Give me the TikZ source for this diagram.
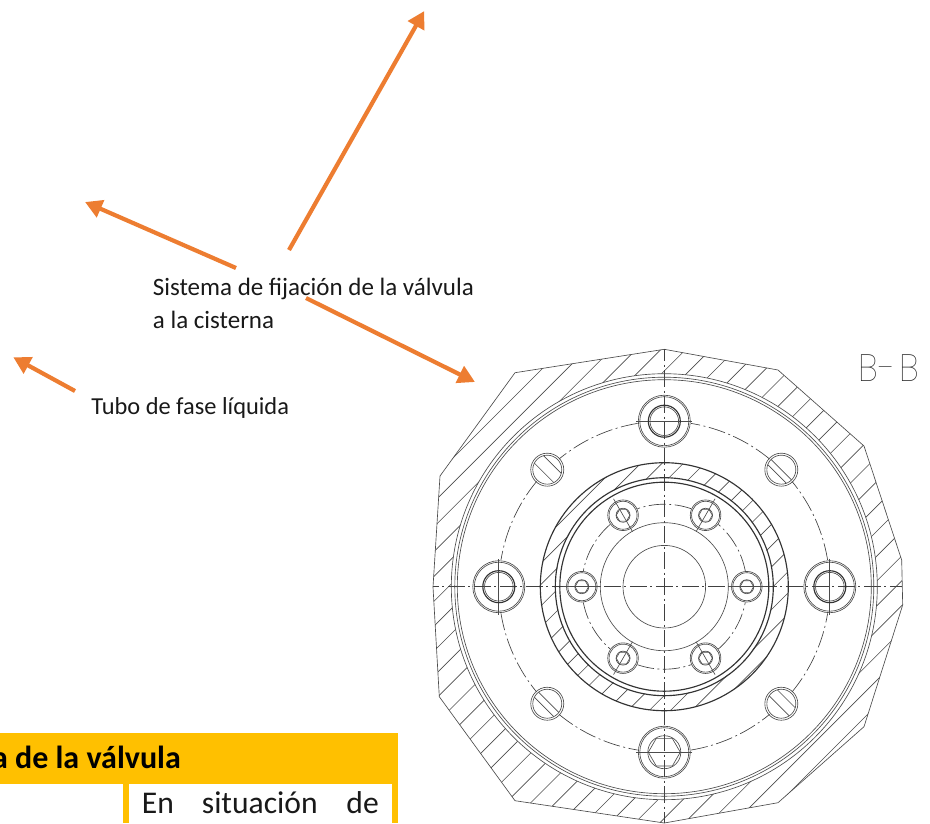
\documentclass[tikz,border=0pt]{standalone}
\usepackage{fontspec}
\setmainfont{Carlito}
\newfontfamily\cadfont{Poppins Thin}
\usetikzlibrary{arrows.meta}
\definecolor{arrowor}{HTML}{ED7D31}
\definecolor{headgold}{HTML}{FFC000}
\tikzset{
  cadline/.style={draw=black!70,line width=0.65pt},
  cadthick/.style={draw=black!80,line width=1.15pt},
  cadcentre/.style={draw=black!75,line width=0.65pt,dash pattern=on 17pt off 3.5pt on 2pt off 3.5pt},
  pointer/.style={draw=arrowor,line width=4.2pt,-{Triangle[length=17pt,width=18pt]}},
  callout/.style={font=\fontsize{25}{32.6}\selectfont,align=left,anchor=base west,inner sep=0pt,text=black!90},
  celltext/.style={font=\fontsize{31.6}{34}\selectfont,inner sep=0pt,text=black!90},
}
\begin{document}
\begin{tikzpicture}[x=1pt,y=-1pt]
\useasboundingbox (0,0) rectangle (930,823);
% table fragment
\fill[headgold] (0,733) rectangle (398,823);
\fill[white] (0,783.5) rectangle (123,823);
\fill[white] (129,783.5) rectangle (392,823);
\node[font=\bfseries\fontsize{32}{36}\selectfont,anchor=base east,inner sep=0pt] (head) at (181,768) {a de la válvula};
\node[celltext,anchor=base west] (cell1) at (141.7,813) {En};
\node[celltext,anchor=base west] (cell2) at (201.7,813) {situación};
\node[celltext,anchor=base east] (cell3) at (379,813) {de};
% labels
\node[callout] (fix) at (152.7,328.3) {Sistema de fijación de la válvula\\a la cisterna};
\node[callout,font=\fontsize{24.4}{32.6}\selectfont] (tube) at (91.2,414.3) {Tubo de fase líquida};
\node[font=\cadfont\fontsize{38}{38}\selectfont,anchor=base west,inner sep=0pt,xscale=0.92,text=black!85] (bb) at (858,381) {B\kern3.5pt-\kern3.5pt B};
% arrows
\coordinate (a1s) at (289,250); \coordinate (a1e) at (424.3,11);
\coordinate (a2s) at (236,268); \coordinate (a2e) at (85,202);
\coordinate (a3s) at (306,298); \coordinate (a3e) at (475,382);
\coordinate (a4s) at (75,391);  \coordinate (a4e) at (13.3,357.3);
\draw[pointer] (a1s) -- (a1e);
\draw[pointer] (a2s) -- (a2e);
\draw[pointer] (a3s) -- (a3e);
\draw[pointer] (a4s) -- (a4e);
% hatching, body
\begin{scope}[even odd rule]
  \clip (664.3,349.3) -- (778,370) -- (864,446) -- (901.7,560) -- (902.7,605) -- (864,726.7) -- (778,802.7) -- (664.3,823) -- (515,800.7) -- (439.3,696.7) -- (433,587) -- (440,476) -- (515,372.7) -- cycle (664.3,586.7) circle[radius=213];
  \foreach \k in {0,...,27}{
    \pgfmathsetmacro\cc{911+24.85*\k}
    \draw[cadline] (400,{\cc-400}) -- (930,{\cc-930});
  }
\end{scope}
\draw[cadline] (664.3,349.3) -- (778,370) -- (864,446) -- (901.7,560) -- (902.7,605) -- (864,726.7) -- (778,802.7) -- (664.3,823) -- (515,800.7) -- (439.3,696.7) -- (433,587) -- (440,476) -- (515,372.7) -- cycle;
% hatching, inner ring
\begin{scope}[even odd rule]
  \clip (664.3,586.7) circle[radius=124] (664.3,586.7) circle[radius=108.5];
  \foreach \k in {-5,...,12}{
    \pgfmathsetmacro\cc{1168+21.3*\k}
    \draw[cadline] (400,{\cc-400}) -- (930,{\cc-930});
  }
\end{scope}
% centre lines
\draw[cadcentre,dash phase=11.2pt] (433,586.7) -- (902,586.7);
\draw[cadcentre,dash phase=5.1pt] (664.3,349.3) -- (664.3,823);
\begin{scope}[shift={(664.3,586.7)},x=1pt,y=1pt]
  \foreach \r in {213,209.5,207}{\draw[cadline] (0,0) circle[radius=\r];}
  \draw[cadthick] (0,0) circle[radius=124];
  \draw[cadthick] (0,0) circle[radius=109];
  \draw[cadthick] (0,0) circle[radius=104.5];
  \draw[cadline] (0,0) circle[radius=64];
  \draw[cadline] (0,0) circle[radius=41.3];
  % pitch circles
  \foreach \a in {0,90,180,270}{
    \draw[cadcentre] ({\a+9.3}:165.5) arc[start angle=\a+9.3,end angle=\a+39.5,radius=165.5];
    \draw[cadcentre] ({\a+50.5}:165.5) arc[start angle=\a+50.5,end angle=\a+80.7,radius=165.5];
  }
  \foreach \a in {0,60,...,300}{
    \draw[cadcentre] ({\a+11}:82.5) arc[start angle=\a+11,end angle=\a+49,radius=82.5];
  }
  % large screws
  \foreach \a in {0,90,180,270}{
    \begin{scope}[shift={(\a:165.5)}]
      \draw[cadline] (0,0) circle[radius=26];
      \draw[cadline] (0,0) circle[radius=24.5];
      \draw[cadline] ({\a+90}:28) -- ({\a+270}:28);
      \ifnum\a=270
        \draw[cadline] (0:16) -- (60:16) -- (120:16) -- (180:16) -- (240:16) -- (300:16) -- cycle;
        \draw[cadline] (0,0) circle[radius=16.5];
      \else
        \draw[cadthick] (0,0) circle[radius=16];
        \draw[cadline] (0,0) circle[radius=14.3];
      \fi
    \end{scope}
  }
  % slotted plugs
  \foreach \a/\p/\q in {45/0/-6,135/7.3/-4.5,225/2/-4.5,315/7/-3}{
    \begin{scope}[shift={(\a:165.5)}]
      \draw[cadline] (0,0) circle[radius=16.5];
      \draw[cadline] (0,0) circle[radius=14.5];
      \begin{scope}
        \clip (0,0) circle[radius=14.5];
        \draw[cadline] (-20,{20+\p*1.414}) -- (20,{-20+\p*1.414});
        \draw[cadline] (-20,{20+\q*1.414}) -- (20,{-20+\q*1.414});
      \end{scope}
    \end{scope}
  }
  % small screws
  \foreach \a in {0,60,...,300}{
    \begin{scope}[shift={(\a:82.5)}]
      \draw[cadline] (0,0) circle[radius=15.3];
      \draw[cadline] (0,0) circle[radius=14];
      \draw[cadline] (0,0) circle[radius=7];
      \draw[cadline] (\a:-19) -- (\a:19);
      \draw[cadline] (0:6.8) -- (60:6.8) -- (120:6.8) -- (180:6.8) -- (240:6.8) -- (300:6.8) -- cycle;
    \end{scope}
  }
\end{scope}
\end{tikzpicture}
\end{document}
